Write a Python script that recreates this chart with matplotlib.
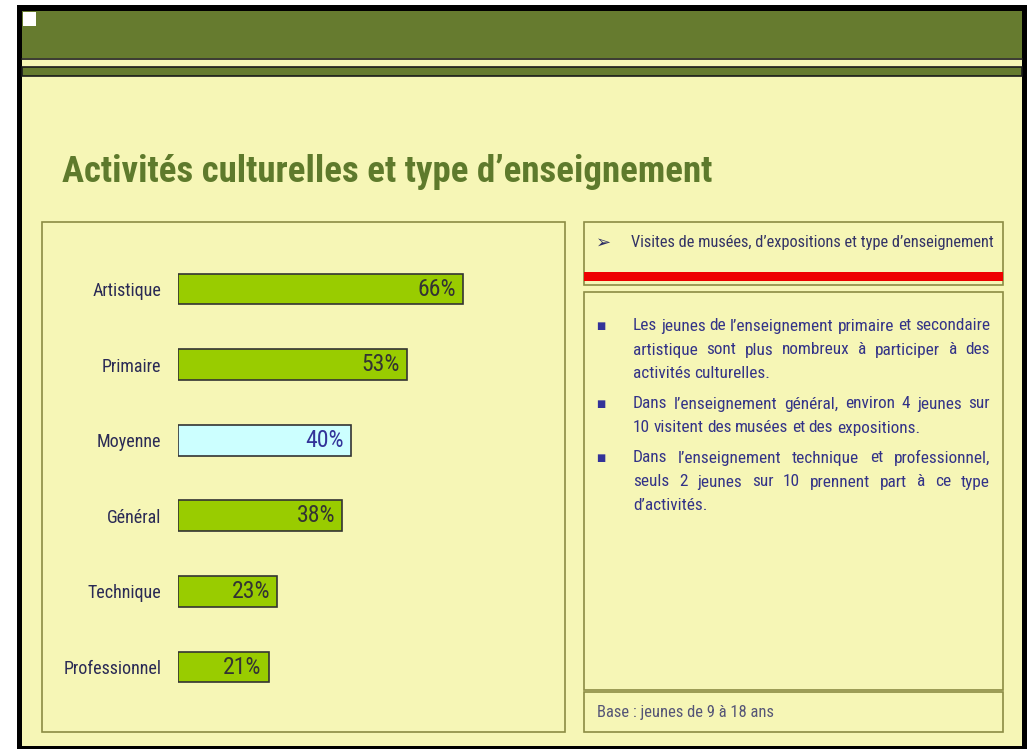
'''
visites de musees par type d'enseignement - bar chart + comment panel
'''

import matplotlib.pyplot as plt
from matplotlib.patches import Rectangle

categories = ["Artistique", "Primaire", "Moyenne", "Général", "Technique", "Professionnel"]
values = [66, 53, 40, 38, 23, 21]
highlight = "Moyenne"

title = "Activités culturelles et type d’enseignement"
panel_title = "Visites de musées, d’expositions et type d’enseignement"
paragraphs = [
    ["Les jeunes de l’enseignement primaire et secondaire",
     "artistique sont plus nombreux à participer à des",
     "activités culturelles."],
    ["Dans l’enseignement général, environ 4 jeunes sur",
     "10 visitent des musées et des expositions."],
    ["Dans l’enseignement technique et professionnel,",
     "seuls 2 jeunes sur 10 prennent part à ce type",
     "d’activités."],
]
base_note = "Base : jeunes de 9 à 18 ans"

YELLOW = "#f6f6b6"
DARK_GREEN = "#667b2f"
OLIVE = "#8c8c45"
NARROW = ["Roboto Condensed", "Liberation Sans Narrow", "Open Sans Condensed", "Roboto", "DejaVu Sans"]

W, H = 1031, 749
fig = plt.figure(figsize=(W / 100, H / 100), dpi=100)
fig.patch.set_facecolor("white")
renderer = fig.canvas.get_renderer()

# background axes in pixel coordinates
bg = fig.add_axes([0, 0, 1, 1])
bg.set_xlim(0, W)
bg.set_ylim(H, 0)
bg.axis("off")

def box(x0, y0, x1, y1, **kw):
    bg.add_patch(Rectangle((x0, y0), x1 - x0, y1 - y0, **kw))

def fit_size(s, width, **kw):
    # font size that makes s about `width` pixels wide
    t = bg.text(0, 0, s, fontsize=10, family=NARROW, **kw)
    w = t.get_window_extent(renderer).width
    t.remove()
    return 10 * width / w

# slide frame and header
box(17, 5, 1027, 749, facecolor="black", edgecolor="none")
box(22, 11, 1022, 746, facecolor=YELLOW, edgecolor="none")
box(22, 11, 1022, 58, facecolor=DARK_GREEN, edgecolor="none")
bg.plot([22, 1022], [58.5, 58.5], color="#1a1a1a", lw=1.2)
box(22, 67, 1022, 76, facecolor=DARK_GREEN, edgecolor="#1a1a1a", lw=1.2)
box(23, 12, 36, 26, facecolor="white", edgecolor="none")

bg.text(62, 182, title, fontsize=fit_size(title, 650, fontweight="bold"),
        fontweight="bold", color="#5e7a2c", family=NARROW, va="baseline", ha="left")

# panels
box(42, 222, 565, 732, facecolor="none", edgecolor=OLIVE, lw=1.2)
box(584, 222, 1003, 285, facecolor="none", edgecolor=OLIVE, lw=1.2)
box(584, 272, 1003, 281, facecolor="#ee0000", edgecolor="none")
box(584, 292, 1003, 690, facecolor="none", edgecolor=OLIVE, lw=1.2)
box(584, 692, 1003, 732, facecolor="none", edgecolor=OLIVE, lw=1.2)

bg.text(596, 243, "➢", fontsize=13, color="#2e2e66", family=["DejaVu Sans"],
        va="center", ha="left")
bg.text(631, 243, panel_title, fontsize=fit_size(panel_title, 360), color="#333366",
        family=NARROW, va="center", ha="left")
bg.text(597, 713, base_note, fontsize=min(fit_size(base_note, 175), 13), color="#555577",
        family=NARROW, va="center", ha="left")

# justified comment text
x_left, x_right = 633, 990
body_size = min(fit_size(l, 354) for p in paragraphs for l in p[:-1])
line_y = [[326, 350, 374], [404, 428], [458, 482, 506]]
for para, ys in zip(paragraphs, line_y):
    bg.text(601, ys[0], "■", fontsize=7, color="#333399",
            family=["DejaVu Sans"], va="center", ha="center")
    for k, (line, y) in enumerate(zip(para, ys)):
        words = line.split(" ")
        txts = [bg.text(0, y, w, fontsize=body_size, color="#333388", family=NARROW,
                        va="center", ha="left") for w in words]
        widths = [t.get_window_extent(renderer).width for t in txts]
        last = k == len(para) - 1
        gap = 0.28 * body_size if last else (x_right - x_left - sum(widths)) / (len(words) - 1)
        x = x_left
        for t, w in zip(txts, widths):
            t.set_x(x)
            x += w + gap

# bar chart: 0% at x=178, 4.318 px per %
px_per_pct = 4.318
x0_px, x1_px = 178, 565
top_px, step_px = 289 - 75.6 / 2, 75.6
ax = fig.add_axes([x0_px / W, 1 - (top_px + 6 * step_px) / H,
                   (x1_px - x0_px) / W, 6 * step_px / H])
ax.set_xlim(0, (x1_px - x0_px) / px_per_pct)
ax.set_ylim(5.5, -0.5)
ax.patch.set_alpha(0)
for s in ax.spines.values():
    s.set_visible(False)

pos = range(len(categories))
colors = ["#ccffff" if c == highlight else "#99cc00" for c in categories]
ax.barh(pos, values, height=0.41, color=colors, edgecolor="#333333", linewidth=1.2)
val_size = fit_size("66%", 38)
for i, (c, v) in enumerate(zip(categories, values)):
    ax.annotate(f"{v}%", (v, i), xytext=(-5, 0), textcoords="offset points",
                ha="right", va="center", fontsize=val_size, family=NARROW,
                color="#333399" if c == highlight else "#333333")

ax.set_xticks([])
ax.set_yticks(list(pos))
ax.set_yticklabels(categories, fontsize=fit_size("Professionnel", 98), family=NARROW,
                   color="#2a2a55")
ax.tick_params(axis="y", length=0, pad=12)

plt.savefig("out.png", dpi=100, facecolor=fig.get_facecolor())
